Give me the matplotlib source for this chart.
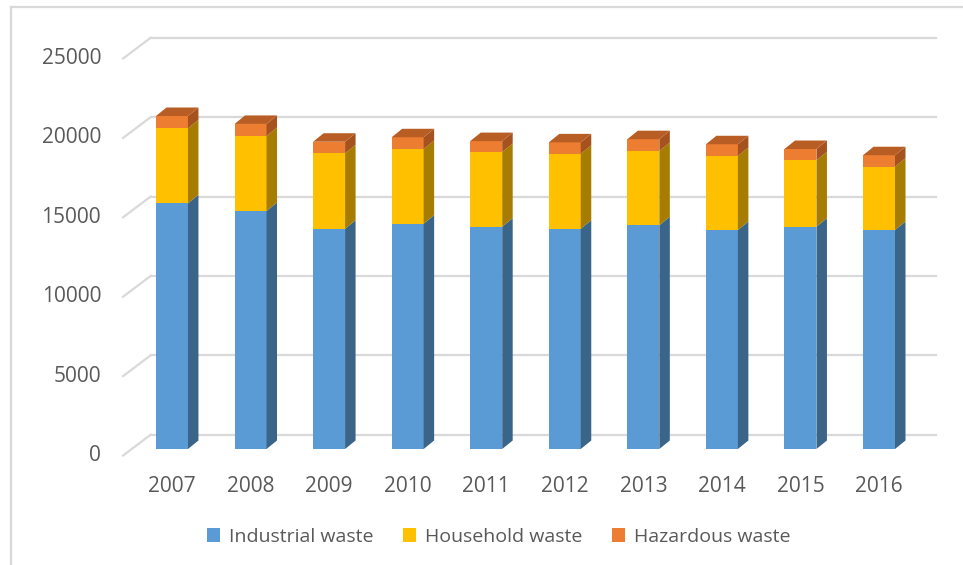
import matplotlib.pyplot as plt
from matplotlib.patches import Polygon, Rectangle
from matplotlib.lines import Line2D

# values (tonnes, thousands)
years = ["2007", "2008", "2009", "2010", "2011", "2012", "2013", "2014", "2015", "2016"]
industrial = [15470, 14990, 13870, 14190, 14000, 13870, 14090, 13790, 14000, 13790]
household = [4720, 4720, 4750, 4700, 4700, 4720, 4680, 4660, 4180, 3990]
hazardous = [780, 760, 730, 740, 690, 720, 740, 740, 710, 720]
y_ticks = [0, 5000, 10000, 15000, 20000, 25000]
series_names = ["Industrial waste", "Household waste", "Hazardous waste"]

front_colors = ["#5b9bd5", "#ffc000", "#ed7d31"]
side_colors = ["#3b6489", "#a67d00", "#a5521e"]
top_color = "#b85e24"
grid_color = "#d9d9d9"
text_color = "#595959"
font = "Open Sans"

W, H = 963, 565
fig = plt.figure(figsize=(W / 100, H / 100), dpi=100)
ax = fig.add_axes([0, 0, 1, 1])
x_lo, x_hi = -2.189, 10.069
y_lo, y_hi = -7305, 28275
ax.set_xlim(x_lo, x_hi)
ax.set_ylim(y_lo, y_hi)
ax.axis("off")

# pixel -> data helpers for the fake 3d depth
px_x = W / (x_hi - x_lo)
px_y = H / (y_hi - y_lo)
def dxp(p):
    return p / px_x
def dyp(p):
    return p / px_y

x = list(range(len(years)))
bar_w = 0.407
depth_x, depth_y = dxp(10.5), dyp(8.5)
back_x, back_y = dxp(18), dyp(14.3)
front_x, front_y = dxp(-9.6), dyp(-6.5)

# back wall gridlines + side wall diagonals
for v in y_ticks:
    ax.add_line(Line2D([-0.5 + back_x, 9.5 + back_x], [v + back_y, v + back_y],
                       color=grid_color, lw=1.6, zorder=1))
    ax.add_line(Line2D([-0.5 + front_x, -0.5 + back_x], [v + front_y, v + back_y],
                       color=grid_color, lw=1.6, zorder=1))
    ax.text(-0.5 + front_x - dxp(22), v + front_y, str(v), ha="right", va="center",
            fontsize=15, color=text_color, family=font)

# stacked 3d-ish bars
bottoms = [0] * len(years)
all_series = [industrial, household, hazardous]
for k, vals in enumerate(all_series):
    ax.bar(x, vals, bottom=bottoms, width=bar_w, color=front_colors[k],
           linewidth=0, zorder=3)
    for i in range(len(years)):
        y0 = bottoms[i]
        y1 = bottoms[i] + vals[i]
        xr = x[i] + bar_w / 2
        xl = x[i] - bar_w / 2
        side = Polygon([(xr, y0), (xr + depth_x, y0 + depth_y),
                        (xr + depth_x, y1 + depth_y), (xr, y1)],
                       closed=True, facecolor=side_colors[k], edgecolor="none", zorder=3)
        ax.add_patch(side)
        if k == len(all_series) - 1:
            top = Polygon([(xl, y1), (xr, y1), (xr + depth_x, y1 + depth_y),
                           (xl + depth_x, y1 + depth_y)],
                          closed=True, facecolor=top_color, edgecolor="none", zorder=3)
            ax.add_patch(top)
    bottoms = [b + v for b, v in zip(bottoms, vals)]

# category labels
for i, yr in enumerate(years):
    ax.text(x[i], -2370, yr, ha="center", va="center", fontsize=15,
            color=text_color, family=font)

# legend
handles = [Rectangle((0, 0), 1, 1, facecolor=c, edgecolor="none") for c in front_colors]
fig.legend(handles, series_names, loc="center", bbox_to_anchor=(0.5177, 1 - 537 / H),
           ncol=3, frameon=False, handlelength=0.7, handleheight=0.7,
           handletextpad=0.45, columnspacing=1.5,
           prop={"family": font, "size": 14}, labelcolor=text_color)

# chart border (partly cropped in the reference)
fig.add_artist(Line2D([11 / W, 11 / W], [0, 1 - 7 / H], transform=fig.transFigure,
                      color=grid_color, lw=1.6))
fig.add_artist(Line2D([11 / W, 1], [1 - 7 / H, 1 - 7 / H], transform=fig.transFigure,
                      color=grid_color, lw=1.6))

fig.savefig("out.png", dpi=100)
